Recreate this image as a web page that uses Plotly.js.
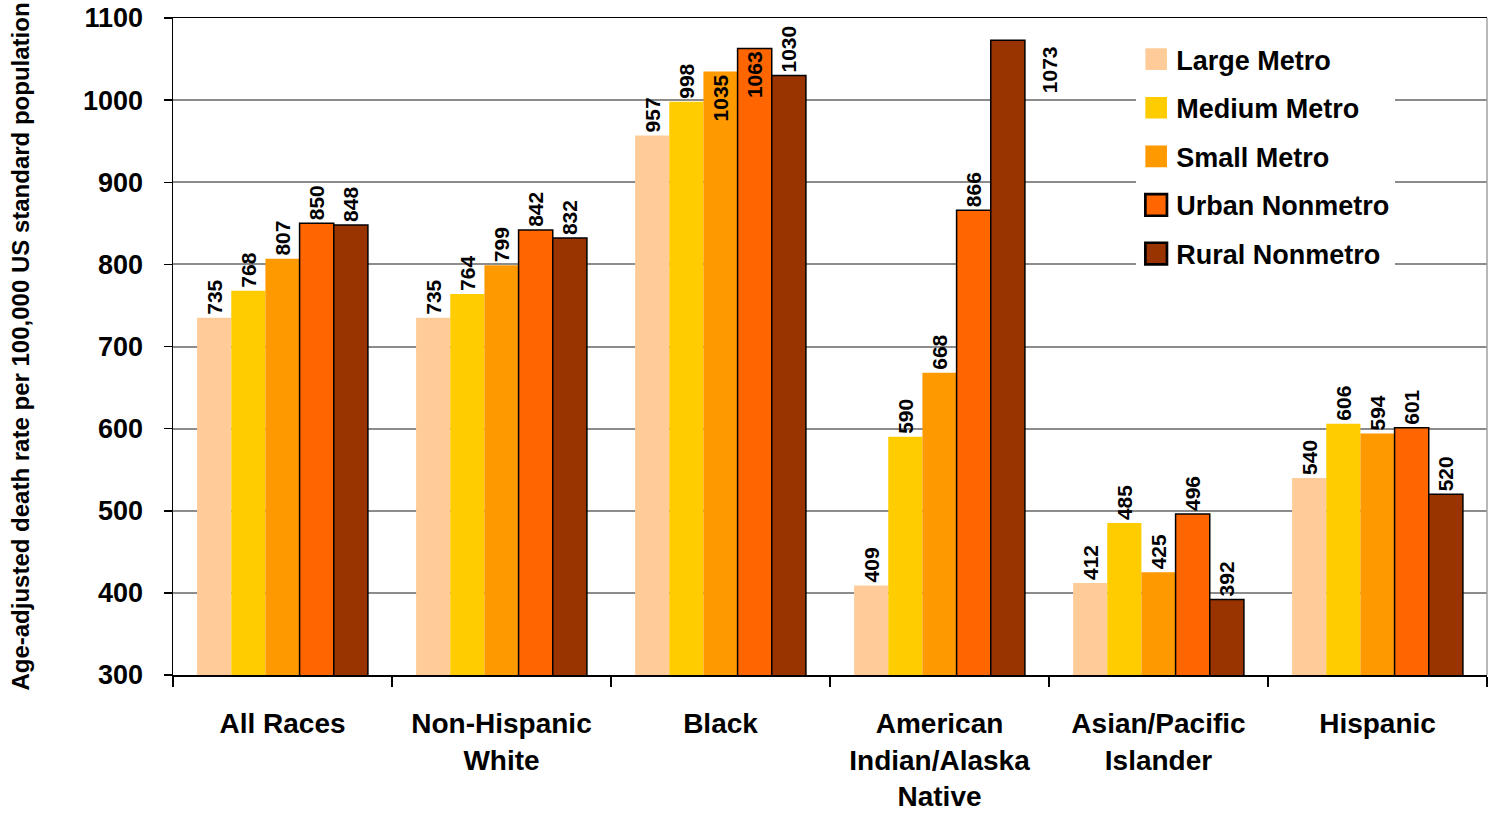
<!DOCTYPE html>
<html>
<head>
<meta charset="utf-8">
<script src="https://cdn.plot.ly/plotly-3.0.1.min.js"></script>
<style>
  html, body { margin: 0; padding: 0; background: #ffffff; }
  #chart { width: 1491px; height: 823px; }
</style>
</head>
<body>
<div id="chart"></div>
<script>
const categories = ['All Races', 'Non-Hispanic<br>White', 'Black', 'American<br>Indian/Alaska<br>Native', 'Asian/Pacific<br>Islander', 'Hispanic'];
const seriesNames = ['Large Metro', 'Medium Metro', 'Small Metro', 'Urban Nonmetro', 'Rural Nonmetro'];
const largeMetro = [735, 735, 957, 409, 412, 540];
const mediumMetro = [768, 764, 998, 590, 485, 606];
const smallMetro = [807, 799, 1035, 668, 425, 594];
const urbanNonmetro = [850, 842, 1063, 866, 496, 601];
const ruralNonmetro = [848, 832, 1030, 1073, 392, 520];
const yTicks = [300, 400, 500, 600, 700, 800, 900, 1000, 1100];

const seriesValues = [largeMetro, mediumMetro, smallMetro, urbanNonmetro, ruralNonmetro];
const colors = ['#FFCC99', '#FFCC00', '#FF9900', '#FF6600', '#993300'];
const outlined = [false, false, false, true, true];
const FONT = '"Liberation Sans", Arial, sans-serif';
const LABEL_SIZE = 21;

// label placement per bar: labels that would cross the top sit inside, the 1073 one is put beside the bar
function positions(vals, s) {
  return vals.map((v) => {
    if (s === 4 && v > 1060) return 'none';
    if (v > 1032) return 'inside';
    return 'outside';
  });
}

const labelFont = { family: FONT, size: LABEL_SIZE, color: '#000000', weight: 'bold' };

const traces = seriesValues.map((vals, s) => ({
  type: 'bar',
  name: seriesNames[s],
  legendgroup: 'g' + s,
  x: categories,
  y: vals,
  text: vals.map(String),
  textposition: positions(vals, s),
  insidetextanchor: 'end',
  textangle: -90,
  constraintext: 'none',
  cliponaxis: false,
  textfont: labelFont,
  insidetextfont: labelFont,
  outsidetextfont: labelFont,
  marker: {
    color: colors[s],
    line: { color: '#000000', width: outlined[s] ? 1.5 : 0 }
  },
  hoverinfo: 'skip'
}));

// beside-the-bar label (value near the top of the range)
const annotations = [];
ruralNonmetro.forEach((v, i) => {
  if (v > 1060) {
    annotations.push({
      x: categories[i], y: v, xref: 'x', yref: 'y',
      text: String(v), showarrow: false, textangle: -90,
      xanchor: 'center', yanchor: 'top', xshift: 110, yshift: -4,
      font: labelFont
    });
  }
});

const layout = {
  width: 1491,
  height: 823,
  margin: { l: 173, r: 4, t: 18, b: 148 },
  paper_bgcolor: '#ffffff',
  plot_bgcolor: '#ffffff',
  barmode: 'group',
  bargap: 0.22,
  bargroupgap: 0,
  showlegend: true,
  legend: {
    x: 0.733, y: 0.974, xanchor: 'left', yanchor: 'top',
    bgcolor: '#ffffff',
    font: { family: FONT, size: 27, color: '#000000', weight: 'bold' },
    tracegroupgap: 10.5,
    itemclick: false, itemdoubleclick: false
  },
  xaxis: {
    type: 'category',
    tickson: 'boundaries',
    ticks: 'outside', ticklen: 10, tickwidth: 1.5, tickcolor: '#000000',
    ticklabelstandoff: 23,
    showline: true, linecolor: '#000000', linewidth: 1.5, mirror: true,
    showgrid: false,
    tickfont: { family: FONT, size: 28, color: '#000000', weight: 'bold' },
    fixedrange: true
  },
  yaxis: {
    range: [300, 1100],
    tickvals: yTicks,
    ticktext: yTicks.map(String),
    ticks: 'outside', ticklen: 8, tickwidth: 1.5, tickcolor: '#000000',
    ticklabelstandoff: 15,
    showline: true, linecolor: '#000000', linewidth: 1.5,
    showgrid: true, gridcolor: '#8c8c8c', gridwidth: 2,
    zeroline: false,
    tickfont: { family: FONT, size: 27, color: '#000000', weight: 'bold' },
    title: {
      text: 'Age-adjusted death rate per 100,000 US standard population',
      font: { family: FONT, size: 24, color: '#000000', weight: 'bold' },
      standoff: 46
    },
    fixedrange: true
  },
  shapes: [{
    type: 'line', xref: 'paper', yref: 'paper', x0: 1, x1: 1, y0: 0, y1: 1,
    line: { color: '#a0a0a0', width: 1.5 }
  }],
  annotations: annotations
};

Plotly.newPlot('chart', traces, layout, { displayModeBar: false, staticPlot: true }).then(() => {
  document.querySelectorAll('.legend .legendpoints path').forEach(p => {
    const t = p.getAttribute('transform') || '';
    p.setAttribute('transform', t + ' scale(1.8)');
  });
});
</script>
</body>
</html>
